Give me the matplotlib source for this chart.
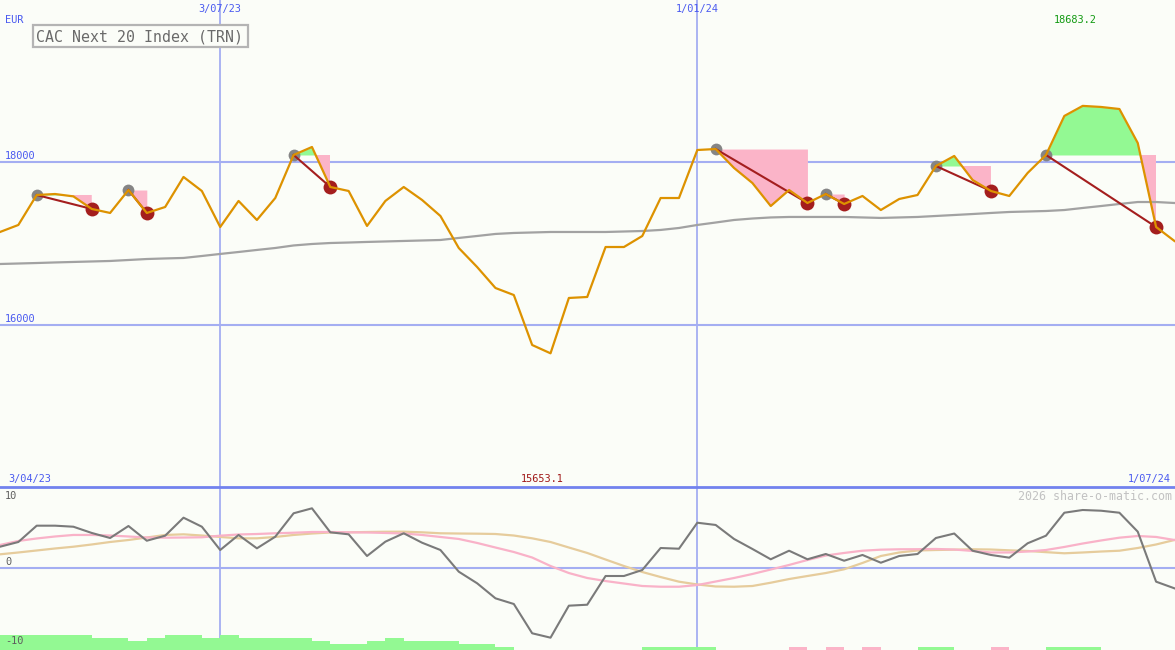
import matplotlib
matplotlib.use("Agg")
import matplotlib.pyplot as plt
import numpy as np
import pandas as pd
from matplotlib.patches import Rectangle
from matplotlib.lines import Line2D

# ---------------- data ----------------
dates = pd.date_range("2023-04-10", periods=65, freq="7D")

close = [17139, 17225, 17592, 17604, 17575, 17421, 17372, 17653, 17372, 17445,
         17813, 17641, 17200, 17519, 17286, 17555, 18082, 18180, 17690, 17641,
         17213, 17519, 17690, 17531, 17335, 16943, 16710, 16453, 16367, 15755,
         15653.1, 16331, 16343, 16955, 16955, 17090, 17555, 17555, 18143, 18155,
         17923, 17739, 17457, 17653, 17494, 17604, 17482, 17580, 17408, 17543,
         17592, 17947, 18070, 17776, 17641, 17580, 17862, 18082, 18560, 18683.2,
         18670, 18645, 18229, 17200, 17029]

ma_long = [16747, 16753, 16759, 16766, 16772, 16778, 16784, 16796, 16808, 16815,
           16821, 16845, 16870, 16894, 16919, 16943, 16974, 16992, 17004, 17010,
           17017, 17023, 17029, 17035, 17041, 17066, 17090, 17115, 17127, 17133,
           17139, 17139, 17139, 17139, 17145, 17151, 17164, 17188, 17225, 17255,
           17286, 17304, 17317, 17323, 17323, 17323, 17323, 17317, 17311, 17317,
           17323, 17335, 17347, 17359, 17372, 17384, 17390, 17396, 17408, 17433,
           17457, 17482, 17506, 17506, 17494]

peaks = [2, 7, 16, 39, 45, 51, 57]
troughs = [5, 8, 18, 44, 46, 54, 63]

osc = [2.66, 3.25, 5.29, 5.29, 5.16, 4.38, 3.75, 5.25, 3.41, 4.04,
       6.29, 5.16, 2.25, 4.13, 2.46, 3.91, 6.84, 7.46, 4.46, 4.21,
       1.5, 3.29, 4.34, 3.16, 2.25, -0.46, -1.91, -3.79, -4.5, -8.16,
       -8.71, -4.71, -4.59, -1.0, -1.0, -0.25, 2.5, 2.41, 5.66, 5.38,
       3.63, 2.38, 1.09, 2.16, 1.09, 1.75, 0.91, 1.63, 0.66, 1.5,
       1.75, 3.75, 4.31, 2.16, 1.63, 1.29, 3.09, 4.04, 6.91, 7.25,
       7.16, 6.91, 4.54, -1.71, -2.54]

osc_pink = [2.88, 3.38, 3.69, 3.94, 4.13, 4.13, 4.06, 3.94, 3.81, 3.79,
            3.81, 3.84, 4.04, 4.19, 4.25, 4.34, 4.41, 4.5, 4.5, 4.46,
            4.44, 4.38, 4.31, 4.13, 3.88, 3.63, 3.13, 2.56, 2.0, 1.31,
            0.25, -0.63, -1.25, -1.63, -1.94, -2.25, -2.34, -2.34, -2.13, -1.69,
            -1.25, -0.75, -0.19, 0.38, 1.0, 1.56, 1.88, 2.16, 2.29, 2.34,
            2.35, 2.38, 2.31, 2.13, 1.94, 1.94, 2.06, 2.25, 2.63, 3.06,
            3.44, 3.79, 4.0, 3.88, 3.5]

osc_tan = [1.71, 1.94, 2.19, 2.44, 2.66, 2.94, 3.25, 3.5, 3.81, 4.13,
           4.21, 4.06, 3.88, 3.71, 3.71, 3.88, 4.13, 4.31, 4.44, 4.46,
           4.5, 4.53, 4.54, 4.46, 4.34, 4.31, 4.29, 4.25, 4.06, 3.71,
           3.25, 2.56, 1.88, 1.06, 0.25, -0.5, -1.13, -1.71, -2.06, -2.31,
           -2.34, -2.25, -1.84, -1.38, -1.0, -0.63, -0.16, 0.63, 1.5, 1.94,
           2.19, 2.25, 2.29, 2.34, 2.31, 2.21, 2.13, 1.98, 1.84, 1.94,
           2.06, 2.16, 2.5, 2.94, 3.5]

# signed bar levels: positive = green, negative = pink
signal = [5, 5, 5, 5, 5, 4, 4, 3, 4, 5,
          5, 4, 5, 4, 4, 4, 4, 3, 2, 2,
          3, 4, 3, 3, 3, 2, 2, 1, 0, 0,
          0, 0, 0, 0, 0, 1, 1, 1, 1, 0,
          0, 0, 0, -1, 0, -1, 0, -1, 0, 0,
          1, 1, 0, 0, -1, 0, 0, 1, 1, 1,
          0, 0, 0, 0, 0]

title = "CAC Next 20 Index (TRN)"
currency = "EUR"
price_levels = [18000, 16000]
osc_levels = [10, 0, -10]
vline_dates = ["2023-07-03", "2024-01-01"]

# ---------------- style ----------------
W, H = 1175, 650
BG = "#FBFDF8"
GRID = "#A4AEF2"
BLUE_TXT = "#4A5AF0"
ORANGE = "#DD9200"
GREEN_FILL = "#93F993"
PINK_FILL = "#FBB4C8"
DARKRED = "#A41E1E"

plt.rcParams["font.family"] = ["DejaVu Sans Mono"]

fig = plt.figure(figsize=(W / 100, H / 100), dpi=100, facecolor=BG)
split_px = 487
ax = fig.add_axes([0, (H - split_px) / H, 1, split_px / H])
ax2 = fig.add_axes([0, 0, 1, (H - split_px) / H])
for a in (ax, ax2):
    a.set_facecolor(BG)
    for s in a.spines.values():
        s.set_visible(False)
    a.set_xticks([])
    a.set_yticks([])

x = np.arange(len(close))
close_a = np.array(close, dtype=float)
xmax = 64.03
ax.set_xlim(0, xmax)
ax2.set_xlim(0, xmax)
ax.set_ylim(14016, 19980)
ax2.set_ylim(-10.25, 10.125)

vidx = [int(np.where(dates == pd.Timestamp(d))[0][0]) for d in vline_dates]

# grid lines
for lvl in price_levels:
    ax.axhline(lvl, color=GRID, lw=1.5, zorder=1)
ax2.axhline(0, color=GRID, lw=1.5, zorder=1)
for vi in vidx:
    ax.axvline(vi, color=GRID, lw=1.3, zorder=1)
    ax2.axvline(vi, color=GRID, lw=1.3, zorder=1)

# fills between peak level and price
for p, q in zip(peaks, troughs):
    xs = x[p:q + 1]
    ys = close_a[p:q + 1]
    lvl = close_a[p]
    ax.fill_between(xs, lvl, ys, where=ys >= lvl, interpolate=True,
                    color=GREEN_FILL, lw=0, zorder=2)
    ax.fill_between(xs, lvl, ys, where=ys <= lvl, interpolate=True,
                    color=PINK_FILL, lw=0, zorder=2)

# long moving average
ax.plot(x, ma_long, color="#A2A2A2", lw=1.6, zorder=3)

# markers and connectors
ax.plot(x[peaks], close_a[peaks], "o", color="#858585", ms=8.5, mec="none", zorder=4)
ax.plot(x[troughs], close_a[troughs], "o", color=DARKRED, ms=10, mec="none", zorder=4)
for p, q in zip(peaks, troughs):
    ax.plot([x[p], x[q]], [close_a[p], close_a[q]], color=DARKRED, lw=1.5, zorder=5)

# price line
ax.plot(x, close_a, color=ORANGE, lw=1.6, zorder=6)

# lower panel
sig = np.array(signal, dtype=float)
bar_unit = 0.375
base = -10.25
colors = [GREEN_FILL if s > 0 else PINK_FILL for s in sig]
ax2.bar(x, np.abs(sig) * bar_unit, width=1.0, align="edge", bottom=base,
        color=colors, lw=0, zorder=2)
ax2.plot(x, osc_tan, color="#E6CC9C", lw=1.6, zorder=3)
ax2.plot(x, osc_pink, color="#F9B2C8", lw=1.6, zorder=3)
ax2.plot(x, osc, color="#7A7A7A", lw=1.5, zorder=4)

# separator line
fig.add_artist(Line2D([0, 1], [(H - split_px) / H] * 2, color="#7282EE", lw=2.0,
                      transform=fig.transFigure, zorder=10))


def ftext(px, py, s, **kw):
    fig.text(px / W, 1 - py / H, s, **kw)


# labels
ftext(5, 20, currency, color=BLUE_TXT, fontsize=7.4, va="center", ha="left")
for vi in vidx:
    d = dates[vi]
    ftext(vi * (W / xmax), 9, f"{d.day}/{d.month:02d}/{d.year % 100:02d}",
          color=BLUE_TXT, fontsize=7.4, va="center", ha="center")
ftext(1075, 20, f"{max(close):.1f}", color="#129A12", fontsize=7.4, va="center", ha="center")
for lvl, py in zip(price_levels, [156, 319]):
    ftext(5, py, f"{lvl}", color=BLUE_TXT, fontsize=7.4, va="center", ha="left")

# title box
fig.add_artist(Rectangle((33 / W, 1 - 47 / H), 215 / W, 22 / H, transform=fig.transFigure,
                         facecolor=BG, edgecolor="#B4B4B4", lw=1.6, zorder=11))
ftext(140, 36.5, title, color="#6A6A6A", fontsize=10.7, va="center", ha="center", zorder=12)

d0 = dates[0] - pd.Timedelta(days=7)
d_end = dates[-1]
ftext(8, 479, f"{d0.day}/{d0.month:02d}/{d0.year % 100:02d}", color=BLUE_TXT,
      fontsize=7.4, va="center", ha="left")
ftext(542, 479, f"{min(close):.1f}", color="#A01818", fontsize=7.4, va="center", ha="center")
ftext(1171, 479, f"{d_end.day}/{d_end.month:02d}/{d_end.year % 100:02d}", color=BLUE_TXT,
      fontsize=7.4, va="center", ha="right")
ftext(1172, 496, "2026 share-o-matic.com", color="#C2C2C2", fontsize=8.4,
      va="center", ha="right")
for lvl, py in zip(osc_levels, [496, 562, 641]):
    ftext(5, py, f"{lvl}", color="#5E5E5E", fontsize=7.4, va="center", ha="left")

fig.savefig("out.png", dpi=100, facecolor=BG)
